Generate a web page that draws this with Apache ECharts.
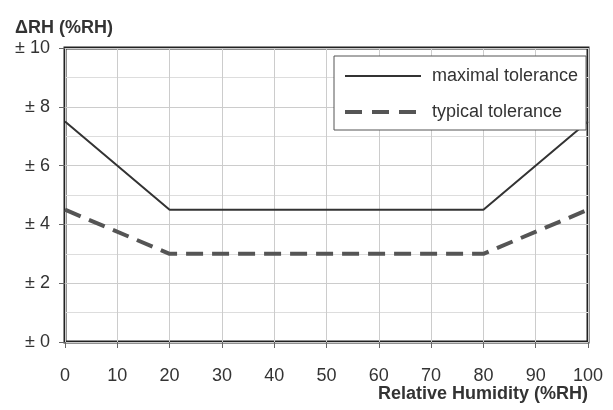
<!DOCTYPE html>
<html><head><meta charset="utf-8">
<script src="https://cdn.jsdelivr.net/npm/echarts@6/dist/echarts.min.js"></script>
<style>html,body{margin:0;padding:0;background:#fff}#c{width:613px;height:410px}</style>
</head><body><div id="c"></div>
<script>
const xValues = [0, 20, 80, 100];
const maximalTolerance = [7.5, 4.5, 4.5, 7.5];
const typicalTolerance = [4.5, 3, 3, 4.5];
const seriesNames = ['maximal tolerance', 'typical tolerance'];
const xTitle = 'Relative Humidity (%RH)';
const yTitle = '\u0394RH (%RH)';

const chart = echarts.init(document.getElementById('c'));
const font = '"Liberation Sans", Arial, sans-serif';
chart.setOption({
  animation: false,
  grid: {left: 65, top: 48, right: 25, bottom: 68, show: true, borderColor: '#222', borderWidth: 3, containLabel: false, outerBoundsMode: 'none'},
  legend: {
    orient: 'vertical', left: 334, top: 56, width: 245,
    padding: [11, 8, 9, 9], itemGap: 18,
    borderColor: '#555', borderWidth: 1, backgroundColor: '#fff',
    itemWidth: 76, itemHeight: 16,
    itemStyle: {opacity: 0},
    textStyle: {fontFamily: font, fontSize: 18, color: '#333', padding: [0, 0, 0, 6]},
    data: [
      {name: seriesNames[0], lineStyle: {width: 2, color: '#333', type: 'solid'}},
      {name: seriesNames[1], lineStyle: {width: 4, color: '#555', type: [17, 10]}}
    ]
  },
  xAxis: {
    type: 'value', min: 0, max: 100, interval: 10,
    name: xTitle, nameLocation: 'end', nameGap: 0, nameMoveOverlap: false,
    nameTextStyle: {fontFamily: font, fontSize: 18, fontWeight: 'bold', color: '#333', align: 'right', verticalAlign: 'top', padding: [43, 0, 0, 0]},
    axisLine: {show: false},
    axisTick: {show: true, length: 6, lineStyle: {color: '#666', width: 1}},
    axisLabel: {fontFamily: font, fontSize: 18, color: '#333', margin: 25},
    splitLine: {show: true, lineStyle: {color: '#ccc', width: 1}}
  },
  yAxis: {
    type: 'value', min: 0, max: 10, interval: 2,
    name: yTitle, nameLocation: 'end', nameGap: 11, nameMoveOverlap: false,
    nameTextStyle: {fontFamily: font, fontSize: 18, fontWeight: 'bold', color: '#333', align: 'left', padding: [0, 0, 0, -50]},
    axisLine: {show: false},
    axisTick: {show: true, length: 6, lineStyle: {color: '#666', width: 1}},
    axisLabel: {fontFamily: font, fontSize: 18, color: '#333', margin: 15, formatter: v => '\u00b1 ' + v},
    splitLine: {show: true, lineStyle: {color: '#ccc', width: 1}},
    minorTick: {show: false, splitNumber: 2},
    minorSplitLine: {show: true, lineStyle: {color: '#ddd', width: 1}}
  },
  series: [
    {name: seriesNames[0], type: 'line', symbol: 'none', z: 3,
     data: xValues.map((x, i) => [x, maximalTolerance[i]]),
     lineStyle: {color: '#333', width: 2, type: 'solid'}, itemStyle: {color: '#333'}},
    {name: seriesNames[1], type: 'line', symbol: 'none', z: 3,
     data: xValues.map((x, i) => [x, typicalTolerance[i]]),
     lineStyle: {color: '#555', width: 4, type: [17, 9]}, itemStyle: {color: '#555'}}
  ]
});
</script></body></html>
